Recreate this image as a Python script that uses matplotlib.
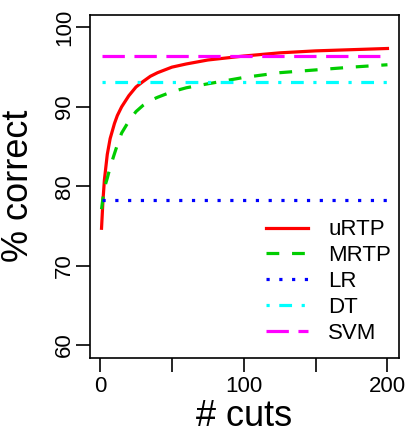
import matplotlib
matplotlib.use('Agg')
import matplotlib.pyplot as plt

plt.rcParams['font.family'] = ['Liberation Sans', 'DejaVu Sans']

# data
cuts = [1, 2, 3, 5, 7, 10, 12, 15, 20, 25, 30, 35, 40, 50, 60, 75, 100, 125, 150, 175, 200]
urtp = [74.7, 78.2, 80.8, 84.0, 86.0, 87.9, 88.9, 90.0, 91.4, 92.5, 93.2, 93.85, 94.3, 95.0,
        95.4, 95.9, 96.4, 96.8, 97.05, 97.2, 97.35]
mrtp = [77.1, 78.5, 79.8, 81.0, 82.4, 84.1, 85.2, 86.7, 88.2, 89.4, 90.2, 90.8, 91.2, 91.9,
        92.4, 92.9, 93.7, 94.3, 94.65, 95.0, 95.3]
lr_acc = 78.2
dt_acc = 93.1
svm_acc = 96.4

x_ticks = [0, 50, 100, 150, 200]
x_tick_labels = ['0', '', '100', '', '200']
y_ticks = [60, 70, 80, 90, 100]

fig = plt.figure(figsize=(4.13, 4.34), dpi=100)
ax = fig.add_axes([0.218, 0.176, 0.748, 0.790])

lw = 2.3
x_range = [cuts[0], cuts[-1]]
ax.plot(cuts, urtp, color='red', lw=lw, label='uRTP')
ax.plot(cuts, mrtp, color='#00cd00', lw=lw, linestyle=(0, (4, 4)), label='MRTP')
ax.plot(x_range, [lr_acc, lr_acc], color='blue', lw=lw, linestyle=(0, (1, 3)), label='LR')
ax.plot(x_range, [dt_acc, dt_acc], color='cyan', lw=lw, linestyle=(0, (1, 3, 4, 3)), label='DT')
ax.plot(x_range, [svm_acc, svm_acc], color='magenta', lw=lw, linestyle=(0, (7, 3)), label='SVM')

ax.set_xlim(-7, 208)
ax.set_ylim(58.4, 101.6)
ax.set_xticks(x_ticks)
ax.set_xticklabels(x_tick_labels)
ax.set_yticks(y_ticks)
ax.set_yticklabels([str(v) for v in y_ticks], rotation=90, va='center')
ax.tick_params(axis='both', labelsize=16, length=10, width=1.2, direction='out')
ax.tick_params(axis='x', pad=3)
ax.tick_params(axis='y', pad=1)
for s in ax.spines.values():
    s.set_linewidth(1.2)

ax.set_xlabel('# cuts', fontsize=26, va='center')
ax.xaxis.set_label_coords(0.5, -0.172)
ax.set_ylabel('% correct', fontsize=26, va='center')
ax.yaxis.set_label_coords(-0.233, 0.5)

ax.legend(loc='lower right', bbox_to_anchor=(0.975, 0.04), frameon=False,
          fontsize=16, handlelength=1.9, handletextpad=0.9, labelspacing=0.22,
          borderpad=0, borderaxespad=0)

fig.savefig('out.png', dpi=100)
